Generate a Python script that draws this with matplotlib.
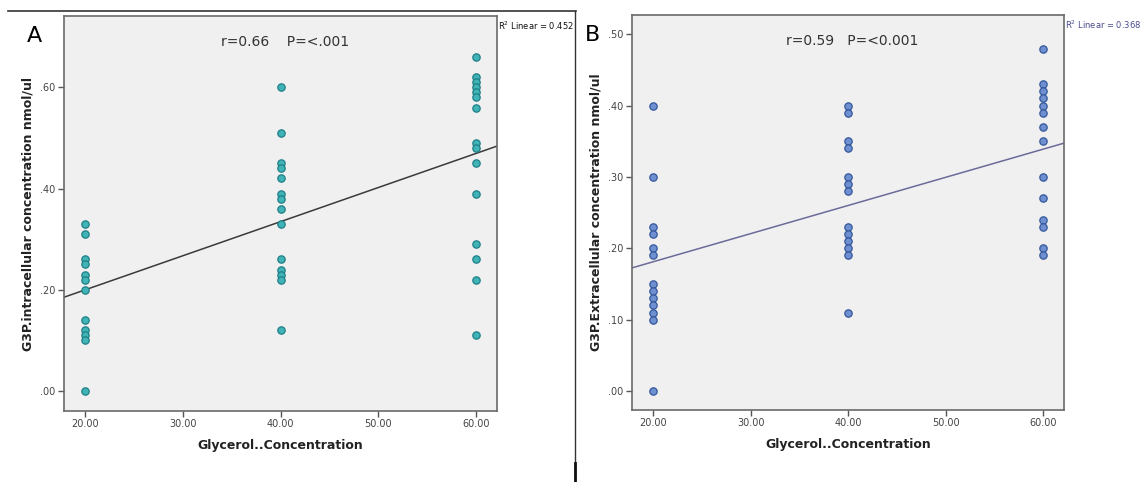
import numpy as np
import matplotlib.pyplot as plt
from matplotlib.lines import Line2D

# valores
glicerol = [20, 40, 60]

intra_20 = [0.33, 0.31, 0.26, 0.25, 0.23, 0.22, 0.20, 0.14, 0.12, 0.11, 0.10, 0.00]
intra_40 = [0.60, 0.51, 0.45, 0.44, 0.42, 0.39, 0.38, 0.36, 0.33, 0.26, 0.24, 0.23, 0.22, 0.12]
intra_60 = [0.66, 0.62, 0.61, 0.60, 0.59, 0.58, 0.56, 0.49, 0.48, 0.45, 0.39, 0.29, 0.26, 0.22, 0.11]

extra_20 = [0.40, 0.30, 0.23, 0.22, 0.20, 0.19, 0.15, 0.14, 0.13, 0.12, 0.11, 0.10, 0.00]
extra_40 = [0.40, 0.39, 0.35, 0.34, 0.30, 0.29, 0.28, 0.23, 0.22, 0.21, 0.20, 0.19, 0.11]
extra_60 = [0.48, 0.43, 0.42, 0.41, 0.40, 0.39, 0.37, 0.35, 0.30, 0.27, 0.24, 0.23, 0.20, 0.19]

xticks = [20, 30, 40, 50, 60]
yticks_a = [0.0, 0.2, 0.4, 0.6]
yticks_b = [0.0, 0.1, 0.2, 0.3, 0.4, 0.5]


def juntar(grupos):
    xs, ys = [], []
    for g, vals in zip(glicerol, grupos):
        xs += [g] * len(vals)
        ys += vals
    return np.array(xs, float), np.array(ys, float)


def panel(ax, grupos, ylim, yticks, ylabel, fill, edge, linecol, stats, r2, r2col, letra):
    x, y = juntar(grupos)
    ax.set_facecolor('#f0f0f0')
    ax.set_xlim(17.8, 62.15)
    ax.set_ylim(*ylim)
    ax.scatter(x, y, s=28, color=fill, edgecolors=edge, linewidths=0.9, zorder=3)

    # recta de regresion
    m, b = np.polyfit(x, y, 1)
    xx = np.array(ax.get_xlim())
    ax.plot(xx, m * xx + b, color=linecol, lw=1.1, zorder=2)

    ax.set_xticks(xticks)
    ax.set_xticklabels(['%.2f' % t for t in xticks])
    ax.set_yticks(yticks)
    ax.set_yticklabels([('%.2f' % t)[1:] for t in yticks])
    ax.tick_params(direction='out', length=4, width=1, color='#555555',
                   labelsize=7, labelcolor='#444444', pad=2)
    for s in ['top', 'right', 'left', 'bottom']:
        ax.spines[s].set_color('#6a6a6a')
        ax.spines[s].set_linewidth(1.2)

    ax.set_xlabel('Glycerol..Concentration', fontsize=9, fontweight='bold', color='#222222', labelpad=7)
    ax.set_ylabel(ylabel, fontsize=9, fontweight='bold', color='#222222', labelpad=4)

    ax.text(0.51, 0.935, stats, transform=ax.transAxes, ha='center', va='center',
            fontsize=10, color='#333333')
    ax.text(1.003, 0.975, r2, transform=ax.transAxes, ha='left', va='center',
            fontsize=6, color=r2col)
    ax.text(letra[0], letra[1], letra[2], transform=ax.transAxes, ha='center', va='center',
            fontsize=16, color='black')


fig = plt.figure(figsize=(11.43, 4.82), dpi=100)
ax1 = fig.add_axes([0.056, 0.1473, 0.3788, 0.8195])
ax2 = fig.add_axes([0.5527, 0.1494, 0.3782, 0.8195])

panel(ax1, [intra_20, intra_40, intra_60], (-0.0395, 0.741), yticks_a,
      'G3P.intracellular concentration nmol/ul', '#3fb3b5', '#1f7f86', '#3a3a3a',
      'r=0.66    P=<.001', 'R$^2$ Linear = 0.452', '#111111', (-0.068, 0.95, 'A'))
panel(ax2, [extra_20, extra_40, extra_60], (-0.0266, 0.527), yticks_b,
      'G3P.Extracellular concentration nmol/ul', '#6e8fd0', '#34589a', '#6b6b9a',
      'r=0.59   P=<0.001', 'R$^2$ Linear = 0.368', '#4a4a8c', (-0.09, 0.95, 'B'))

# marco alrededor del panel A
fig.add_artist(Line2D([8 / 1143, 576 / 1143], [1 - 11 / 482, 1 - 11 / 482], color='#333333', lw=1.2))
fig.add_artist(Line2D([575 / 1143, 575 / 1143], [1 - 11 / 482, 0], color='#333333', lw=1.0))
fig.add_artist(Line2D([575 / 1143, 575 / 1143], [1 - 463 / 482, 0], color='#111111', lw=2.0))

fig.savefig('out.png', dpi=100)
